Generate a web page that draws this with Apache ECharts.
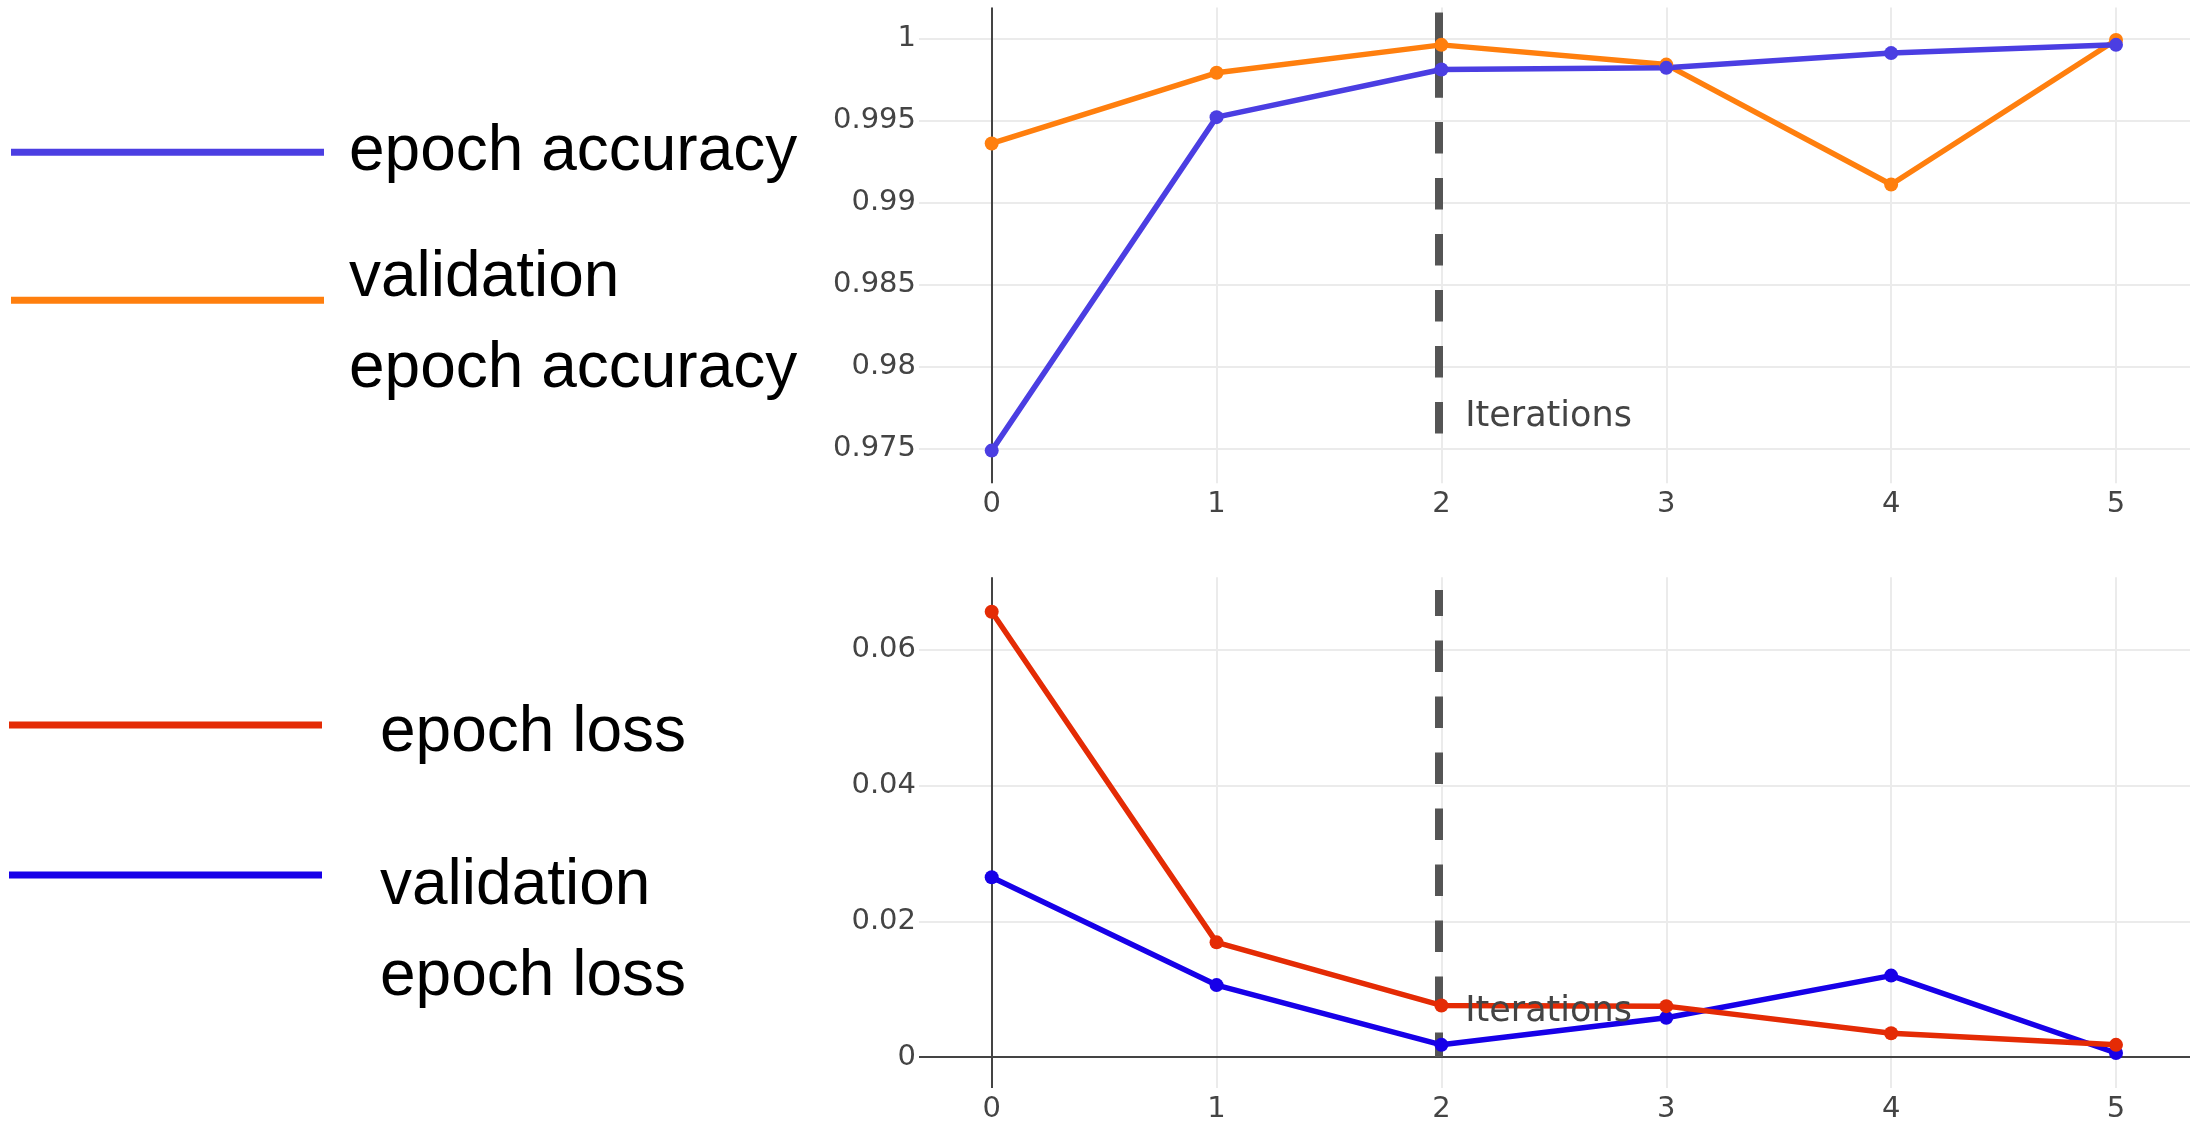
<!DOCTYPE html>
<html><head><meta charset="utf-8">
<script src="https://cdn.jsdelivr.net/npm/echarts@6/dist/echarts.min.js"></script>
<style>html,body{margin:0;padding:0;background:#fff}#c{width:2190px;height:1124px}</style>
</head><body><div id="c"></div>
<script>
// ---- data ----
const epochs = [0, 1, 2, 3, 4, 5];
const epochAccuracy = [0.9749, 0.9952, 0.9981, 0.9982, 0.9991, 0.9996];
const valEpochAccuracy = [0.9936, 0.9979, 0.9996, 0.9984, 0.9911, 0.9999];
const epochLoss = [0.0656, 0.0169, 0.0076, 0.0075, 0.0035, 0.0018];
const valEpochLoss = [0.0265, 0.0106, 0.0018, 0.0058, 0.0120, 0.0006];
const xTickLabels = [0, 1, 2, 3, 4, 5];
const accTickLabels = [0.975, 0.98, 0.985, 0.99, 0.995, 1];
const lossTickLabels = [0, 0.02, 0.04, 0.06];
const markerEpoch = 1.99;
const annotationText = 'Iterations';
const names = ['epoch accuracy', 'validation epoch accuracy', 'epoch loss', 'validation epoch loss'];
// axis ranges
const xRange = [-0.3233, 5.3291];
const accRange = [0.97291, 1.001875];
const lossRange = [-0.00456, 0.07068];

const colors = {acc: '#4b3ee2', valAcc: '#ff7f0e', loss: '#e42b05', valLoss: '#1700e8'};
const pairs = ys => epochs.map((e, i) => [e, ys[i]]);
const pick = list => v => { const t = list.find(t => Math.abs(t - v) < 1e-9); return t === undefined ? '' : String(t); };

const tickFont = {fontSize: 29, fontFamily: 'DejaVu Sans', color: '#444'};
const gridLine = {show: true, showMinLine: false, showMaxLine: false, lineStyle: {color: '#ebebeb', width: 2}};

function xAxis(gi) {
  return {type: 'value', gridIndex: gi, min: xRange[0], max: xRange[1], splitNumber: 5,
    axisLine: {show: false}, axisTick: {show: false}, splitLine: gridLine,
    axisLabel: Object.assign({margin: 7, formatter: pick(xTickLabels), showMinLabel: false, showMaxLabel: false}, tickFont)};
}
function yAxis(gi, range, ticks) {
  return {type: 'value', gridIndex: gi, min: range[0], max: range[1], splitNumber: 5, scale: true,
    axisLine: {show: false}, axisTick: {show: false}, splitLine: gridLine,
    axisLabel: Object.assign({margin: 3, formatter: pick(ticks), showMinLabel: false, showMaxLabel: false}, tickFont)};
}
const dashStyle = {color: '#555', width: 8, type: [31.5, 24.5], cap: 'butt'};
function line(name, color, ys, gi, extra) {
  return Object.assign({name, type: 'line', xAxisIndex: gi, yAxisIndex: gi, data: pairs(ys),
    symbol: 'circle', symbolSize: 14, showSymbol: true,
    lineStyle: {width: 5.5, color}, itemStyle: {color}, emphasis: {disabled: true}}, extra || {});
}
const labelStyle = {show: true, position: 'right', distance: 26, formatter: annotationText,
  color: '#444', fontSize: 35, fontFamily: 'DejaVu Sans', verticalAlign: 'middle', align: 'left'};

function legend(name, top, left, padding) {
  return {orient: 'vertical', left, top, padding: 0, itemWidth: 313, itemHeight: 7, icon: 'rect',
    selectedMode: false, data: [{name, textStyle: {padding}}],
    formatter: n => n.replace('validation ', 'validation\n'),
    textStyle: {fontSize: 64, fontFamily: 'Liberation Sans', color: '#000', lineHeight: 91,
      rich: {x: {fontSize: 64}}}};
}

const option = {
  animation: false,
  backgroundColor: '#fff',
  grid: [
    {left: 919, right: 0, top: 7.5, height: 475.8},
    {left: 919, right: 0, top: 577.3, height: 512}
  ],
  xAxis: [xAxis(0), xAxis(1)],
  yAxis: [yAxis(0, accRange, accTickLabels), yAxis(1, lossRange, lossTickLabels)],
  legend: [
    legend(names[0], 106.8, 11, [0, 0, 0, 20]),
    legend(names[1], 185.6, 11, [47.4, 0, 0, 20]),
    legend(names[2], 671.1, 9, [16.8, 0, 0, 53]),
    legend(names[3], 727.5, 9, [113, 0, 0, 53])
  ],
  series: [
    line(names[1], colors.valAcc, valEpochAccuracy, 0),
    line(names[0], colors.acc, epochAccuracy, 0, {
      markLine: {silent: true, z: 1, symbol: ['none', 'none'], label: {show: false}, animation: false,
        emphasis: {disabled: true},
        data: [
          {xAxis: 0, lineStyle: {color: '#444', width: 2, type: 'solid'}},
          [{coord: [markerEpoch, 1.001558], lineStyle: Object.assign({dashOffset: 2.7}, dashStyle)}, {coord: [markerEpoch, 0.975913]}],
          [{coord: [markerEpoch, 1.001558], lineStyle: {color: '#555', width: 8, type: 'solid', cap: 'butt'}}, {coord: [markerEpoch, 0.996396]}]
        ]},
      markPoint: {silent: true, symbol: 'circle', symbolSize: 0, itemStyle: {color: 'rgba(0,0,0,0)'},
        label: labelStyle, data: [{coord: [markerEpoch, 0.976966]}]}
    }),
    line(names[3], colors.valLoss, valEpochLoss, 1),
    line(names[2], colors.loss, epochLoss, 1, {
      markLine: {silent: true, z: 1, symbol: ['none', 'none'], label: {show: false}, animation: false,
        emphasis: {disabled: true},
        data: [
          {xAxis: 0, lineStyle: {color: '#444', width: 2, type: 'solid'}},
          {yAxis: 0, lineStyle: {color: '#444', width: 2, type: 'solid'}},
          [{coord: [markerEpoch, 0.068817], lineStyle: Object.assign({dashOffset: 5.5}, dashStyle)}, {coord: [markerEpoch, 0]}]
        ]},
      markPoint: {silent: true, symbol: 'circle', symbolSize: 0, itemStyle: {color: 'rgba(0,0,0,0)'},
        label: labelStyle, data: [{coord: [markerEpoch, 0.006613]}]}
    })
  ]
};
const chart = echarts.init(document.getElementById('c'), null, {renderer: 'canvas'});
chart.setOption(option);
</script></body></html>
